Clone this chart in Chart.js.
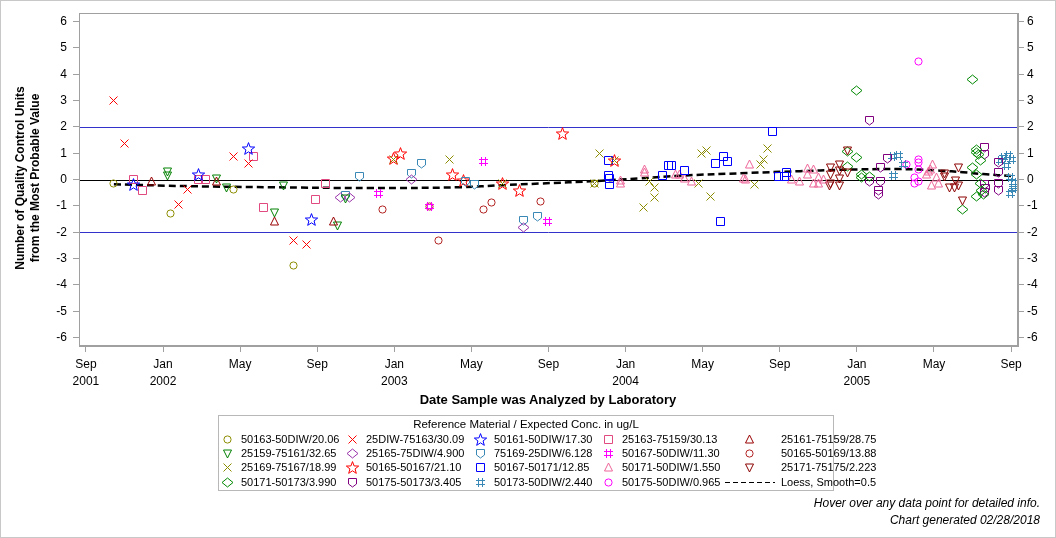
<!DOCTYPE html>
<html>
<head>
<meta charset="utf-8">
<script src="https://cdn.jsdelivr.net/npm/chart.js@4.4.1/dist/chart.umd.min.js"></script>
<style>
  body { margin: 0; background: #fff; font-family: 'Liberation Sans', Arial, sans-serif; color: #000; }
  #page { position: relative; width: 1056px; height: 538px; overflow: hidden; }
  #chart { position: absolute; left: 0; top: 0; }
  #frame { position: absolute; left: 0; top: 0; width: 1056px; height: 538px; box-sizing: border-box; border: 1px solid #c8c8c8; pointer-events: none; }
  #ytitle { position: absolute; left: -121px; top: 162px; width: 300px; height: 32px; transform: rotate(-90deg);
            text-align: center; font-weight: bold; font-size: 12px; line-height: 15px; }
  #xtitle { position: absolute; left: 348px; top: 392px; width: 400px; text-align: center; font-weight: bold; font-size: 13px; }
  #legend { position: absolute; left: 218px; top: 415px; width: 616px; height: 76px; box-sizing: border-box; border: 1px solid #b8b8b8; font-size: 11px; }
  #legend .ttl { position: absolute; left: 0; top: 2px; width: 100%; text-align: center; font-size: 11.5px; }
  #legend .item { position: absolute; white-space: nowrap; line-height: 14px; }
  #legend canvas { position: absolute; }
  #footer { position: absolute; right: 16px; top: 495px; text-align: right; font-style: italic; font-size: 12px; line-height: 17px; }
</style>
</head>
<body>
<div id="page">
  <canvas id="chart" width="1056" height="538"></canvas>
  <div id="ytitle">Number of Quality Control Units<br>from the Most Probable Value</div>
  <div id="xtitle">Date Sample was Analyzed by Laboratory</div>
  <div id="legend"><div class="ttl">Reference Material / Expected Conc. in ug/L</div></div>
  <div id="footer">Hover over any data point for detailed info.<br>Chart generated 02/28/2018</div>
  <div id="frame"></div>
</div>
<script>
// x values are months since Sep 1, 2001; y values are QC units from the most probable value
const xTickMonths = [0, 4, 8, 12, 16, 20, 24, 28, 32, 36, 40, 44, 48];
const xTickLabels = [['Sep', '2001'], ['Jan', '2002'], ['May', ''], ['Sep', ''], ['Jan', '2003'], ['May', ''],
                     ['Sep', ''], ['Jan', '2004'], ['May', ''], ['Sep', ''], ['Jan', '2005'], ['May', ''], ['Sep', '']];
const yTickValues = [-6, -5, -4, -3, -2, -1, 0, 1, 2, 3, 4, 5, 6];
const controlLimits = [-2, 2];

const s50163_50DIW = [[1.45, -0.16], [4.38, -1.30], [7.68, -0.39], [10.76, -3.28], [26.41, -0.16]];
const s25DIW_75163 = [[1.45, 3.0], [2.02, 1.38], [4.79, -0.96], [5.26, -0.39], [7.68, 0.87], [8.42, 0.63], [10.76, -2.33], [11.43, -2.47]];
const s50161_50DIW = [[2.46, -0.20], [5.86, 0.19], [8.42, 1.18], [11.68, -1.52]];
const s25163_75159 = [[2.46, 0.02], [2.92, -0.42], [5.86, 0.02], [6.18, -0.01], [8.68, 0.89], [9.2, -1.07], [11.9, -0.77], [12.44, -0.16]];
const s25161_75159 = [[3.39, -0.09], [6.75, -0.08], [9.77, -1.58], [12.82, -1.60]];
const s25159_75161 = [[4.22, 0.30], [4.22, 0.15], [6.75, 0.05], [7.27, -0.31], [9.77, -1.26], [10.27, -0.23], [13.06, -1.74], [13.48, -0.70]];
const s25165_75DIW = [[13.23, -0.67], [13.7, -0.67], [16.88, 0.01], [22.7, -1.82]];
const s75169_25DIW = [[13.48, -0.59], [14.17, 0.11], [16.88, 0.24], [17.4, 0.62], [19.68, -0.08], [20.15, -0.20], [22.7, -1.55], [23.42, -1.40]];
const s50167_50DIW = [[15.17, -0.54], [17.82, -1.02], [20.64, 0.68], [23.94, -1.60]];
const s50165_50169 = [[15.38, -1.14], [17.82, -1.02], [18.29, -2.30], [20.62, -1.14], [21.03, -0.88], [23.61, -0.83]];
const s25169_75167 = [[15.98, 0.78], [18.85, 0.75], [21.62, -0.13], [26.41, -0.16], [26.67, 1.0], [27.42, 0.74], [28.93, -1.07],
                      [29.22, -0.06], [29.5, -0.31], [29.5, -0.69], [31.76, -0.16], [31.95, 1.0], [32.2, 1.12], [32.38, -0.63],
                      [34.68, -0.20], [34.98, 0.57], [35.15, 0.78], [35.36, 1.20]];
const s50165_50167 = [[15.98, 0.80], [16.3, 0.99], [19.03, 0.18], [19.58, -0.04], [21.62, -0.13], [22.48, -0.42], [24.72, 1.76], [27.42, 0.74]];
const s50167_50171 = [[27.1, 0.72], [27.1, 0.15], [27.15, 0.03], [27.15, -0.19], [29.91, 0.14], [30.22, 0.52], [30.39, 0.52], [31.05, 0.33],
                      [32.66, 0.63], [32.92, -1.60], [33.07, 0.89], [33.28, 0.67], [35.62, 1.84], [35.93, 0.10], [36.27, 0.11], [36.33, 0.26]];
const s50171_50DIW = [[27.73, -0.14], [27.73, -0.05], [28.96, 0.40], [28.96, 0.28], [30.57, 0.19], [30.79, 0.19], [31.05, 0.06], [31.43, -0.06],
                      [34.1, 0.06], [34.2, -0.01], [34.42, 0.57], [36.62, -0.01], [37.01, -0.06], [37.43, 0.44], [37.43, 0.19], [37.74, 0.40],
                      [37.74, -0.14], [38.0, 0.09], [38.0, -0.16], [38.26, -0.01], [43.62, 0.21], [43.7, 0.30], [43.8, 0.40], [43.93, 0.59],
                      [43.88, -0.23], [44.14, 0.09], [44.23, -0.16]];
const s25171_75175 = [[38.64, 0.46], [38.64, 0.21], [38.57, -0.23], [38.64, -0.14], [39.09, 0.59], [39.09, 0.34], [39.09, 0.03], [39.09, -0.23],
                      [39.51, 1.09], [39.51, 0.28], [44.54, 0.24], [44.54, 0.10], [44.8, -0.29], [45.04, -0.29], [45.1, -0.04], [45.27, 0.46],
                      [45.27, -0.23], [45.47, -0.79]];
const s50171_50173 = [[39.51, 1.05], [39.51, 0.50], [39.96, 3.38], [39.96, 0.84], [40.22, 0.19], [40.22, 0.09], [40.68, 0.11], [45.47, -1.14],
                      [45.99, 3.80], [46.22, 1.16], [46.22, 1.03], [46.3, 0.95], [46.43, 0.72], [45.99, 0.46], [46.22, 0.21], [46.39, -0.16],
                      [46.48, -0.42], [46.22, -0.63], [46.57, -0.57]];
const s50175_50173 = [[40.68, 2.23], [40.68, -0.06], [41.12, -0.42], [41.12, -0.57], [41.2, 0.46], [41.2, -0.06], [41.58, 0.82], [46.6, 1.22],
                      [46.6, 0.94], [46.6, -0.20], [46.65, -0.35], [46.6, -0.50], [47.34, 0.65], [47.34, 0.28], [47.34, -0.16], [47.34, -0.42]];
const s50173_50DIW = [[41.86, 0.87], [42.15, 0.90], [41.89, 0.14], [42.41, 0.59], [47.43, 0.72], [47.6, 0.84], [47.86, 0.90], [48.04, 0.78],
                      [47.78, 0.53], [47.95, 0.09], [48.12, -0.10], [48.12, -0.25], [48.12, -0.35], [47.95, -0.54]];
const s50175_50DIW = [[42.55, 0.57], [43.2, 4.49], [43.2, 0.75], [43.2, 0.65], [43.2, 0.38], [42.97, 0.09], [42.97, -0.16], [43.2, -0.08]];
const loessCurve = [[1.45, -0.18], [5.4, -0.25], [9.55, -0.29], [14.74, -0.32], [19.41, -0.29], [21.64, -0.21], [23.56, -0.15],
                    [26.52, -0.05], [28.75, 0.05], [30.83, 0.15], [34.3, 0.25], [37.05, 0.32], [39.13, 0.37], [42.09, 0.40],
                    [44.32, 0.34], [45.51, 0.28], [46.55, 0.21], [48.05, 0.13]];

// legend order is row by row, five columns
const seriesList = [
  { name: '50163-50DIW/20.06', shape: 'circle', color: '#8c8c00', data: s50163_50DIW },
  { name: '25DIW-75163/30.09', shape: 'x', color: '#ff0000', data: s25DIW_75163 },
  { name: '50161-50DIW/17.30', shape: 'star', color: '#0000ff', data: s50161_50DIW },
  { name: '25163-75159/30.13', shape: 'square', color: '#e04a80', data: s25163_75159 },
  { name: '25161-75159/28.75', shape: 'triangle', color: '#990000', data: s25161_75159 },
  { name: '25159-75161/32.65', shape: 'triangleDown', color: '#008000', data: s25159_75161 },
  { name: '25165-75DIW/4.900', shape: 'diamond', color: '#9933aa', data: s25165_75DIW },
  { name: '75169-25DIW/6.128', shape: 'shield', color: '#3a88b5', data: s75169_25DIW },
  { name: '50167-50DIW/11.30', shape: 'hash', color: '#ff00ff', data: s50167_50DIW },
  { name: '50165-50169/13.88', shape: 'circle', color: '#b22222', data: s50165_50169 },
  { name: '25169-75167/18.99', shape: 'x', color: '#8c8c00', data: s25169_75167 },
  { name: '50165-50167/21.10', shape: 'star', color: '#ff0000', data: s50165_50167 },
  { name: '50167-50171/12.85', shape: 'square', color: '#0000ff', data: s50167_50171 },
  { name: '50171-50DIW/1.550', shape: 'triangle', color: '#ee6699', data: s50171_50DIW },
  { name: '25171-75175/2.223', shape: 'triangleDown', color: '#8b0000', data: s25171_75175 },
  { name: '50171-50173/3.990', shape: 'diamond', color: '#008800', data: s50171_50173 },
  { name: '50175-50173/3.405', shape: 'shield', color: '#800080', data: s50175_50173 },
  { name: '50173-50DIW/2.440', shape: 'hash', color: '#3a88b5', data: s50173_50DIW },
  { name: '50175-50DIW/0.965', shape: 'circle', color: '#ff00ff', data: s50175_50DIW }
];

// small outline markers like the SAS symbols
function makeMarker(shape, color) {
  const s = 15, c = 7.5;
  const cv = document.createElement('canvas');
  cv.width = s; cv.height = s;
  const g = cv.getContext('2d');
  g.strokeStyle = color;
  g.lineWidth = 1;
  g.beginPath();
  switch (shape) {
    case 'circle':
      g.arc(c, c, 3.6, 0, Math.PI * 2);
      break;
    case 'x':
      g.moveTo(c - 4, c - 4); g.lineTo(c + 4, c + 4);
      g.moveTo(c + 4, c - 4); g.lineTo(c - 4, c + 4);
      break;
    case 'square':
      g.rect(c - 4, c - 4, 8, 8);
      break;
    case 'triangle':
      g.moveTo(c, c - 4.5); g.lineTo(c + 4, c + 3.5); g.lineTo(c - 4, c + 3.5); g.closePath();
      break;
    case 'triangleDown':
      g.moveTo(c, c + 4.5); g.lineTo(c + 4, c - 3.5); g.lineTo(c - 4, c - 3.5); g.closePath();
      break;
    case 'diamond':
      g.moveTo(c, c - 4.5); g.lineTo(c + 5.5, c); g.lineTo(c, c + 4.5); g.lineTo(c - 5.5, c); g.closePath();
      break;
    case 'shield':
      g.moveTo(c - 4, c - 4); g.lineTo(c + 4, c - 4); g.lineTo(c + 4, c + 1.5); g.lineTo(c, c + 4.5); g.lineTo(c - 4, c + 1.5); g.closePath();
      break;
    case 'hash':
      g.moveTo(c - 2, c - 4.5); g.lineTo(c - 2, c + 4.5);
      g.moveTo(c + 2, c - 4.5); g.lineTo(c + 2, c + 4.5);
      g.moveTo(c - 4.5, c - 2); g.lineTo(c + 4.5, c - 2);
      g.moveTo(c - 4.5, c + 2); g.lineTo(c + 4.5, c + 2);
      break;
    case 'star':
      for (let i = 0; i < 10; i++) {
        const r = i % 2 ? 2.7 : 6.5;
        const a = -Math.PI / 2 + i * Math.PI / 5;
        const px = c + r * Math.cos(a), py = c + 0.6 + r * Math.sin(a);
        if (i === 0) g.moveTo(px, py); else g.lineTo(px, py);
      }
      g.closePath();
      break;
  }
  g.stroke();
  return cv;
}

const toXY = arr => arr.map(p => ({ x: p[0], y: p[1] }));

const datasets = seriesList.map(s => {
  const marker = makeMarker(s.shape, s.color);
  return {
    label: s.name,
    data: toXY(s.data),
    pointStyle: marker,
    pointHoverStyle: marker,
    borderColor: s.color,
    backgroundColor: s.color,
    showLine: false
  };
});
datasets.push({
  label: 'Loess, Smooth=0.5',
  type: 'line',
  data: toXY(loessCurve),
  borderColor: '#000',
  borderWidth: 2.5,
  borderDash: [7, 4],
  pointRadius: 0,
  pointHoverRadius: 0,
  tension: 0.4,
  fill: false
});

// frame of the plot area and the 0 / +-2 reference lines
const refLines = {
  id: 'refLines',
  afterDatasetsUpdate(chart) {
    // snap the image markers to the pixel grid so the thin outlines stay crisp
    chart.data.datasets.forEach((ds, i) => {
      if (ds.type === 'line') return;
      chart.getDatasetMeta(i).data.forEach(el => {
        el.x = Math.floor(el.x) + 0.5;
        el.y = Math.floor(el.y) + 0.5;
      });
    });
  },
  beforeDatasetsDraw(chart) {
    const { ctx, chartArea: a, scales: { y } } = chart;
    ctx.save();
    ctx.lineWidth = 1;
    controlLimits.forEach(v => {
      const py = Math.round(y.getPixelForValue(v)) + 0.5;
      ctx.strokeStyle = '#3333cc';
      ctx.beginPath(); ctx.moveTo(a.left, py); ctx.lineTo(a.right, py); ctx.stroke();
    });
    const p0 = Math.round(y.getPixelForValue(0)) + 0.5;
    ctx.strokeStyle = '#000';
    ctx.beginPath(); ctx.moveTo(a.left, p0); ctx.lineTo(a.right, p0); ctx.stroke();
    ctx.restore();
  },
  afterDraw(chart) {
    const { ctx, chartArea: a } = chart;
    ctx.save();
    ctx.strokeStyle = '#a0a0a0';
    ctx.lineWidth = 1;
    ctx.strokeRect(Math.round(a.left) + 0.5, Math.round(a.top) + 0.5, Math.round(a.right - a.left) - 1, Math.round(a.bottom - a.top) - 1);
    ctx.restore();
  }
};

const tickFont = { family: "'Liberation Sans', Arial, sans-serif", size: 12 };

new Chart(document.getElementById('chart'), {
  type: 'scatter',
  data: { datasets: datasets },
  options: {
    responsive: false,
    animation: false,
    layout: { padding: { top: 10, bottom: 152, left: 0, right: 0 } },
    plugins: {
      legend: { display: false },
      tooltip: { enabled: true }
    },
    scales: {
      x: {
        type: 'linear',
        min: -0.36,
        max: 48.36,
        afterBuildTicks: scale => { scale.ticks = xTickMonths.map(v => ({ value: v })); },
        afterFit: scale => { scale.height = 40; },
        ticks: {
          autoSkip: false,
          maxRotation: 0,
          padding: 5,
          color: '#000',
          font: { ...tickFont, lineHeight: 1.35 },
          callback: (v, i) => xTickLabels[i]
        },
        grid: { display: true, drawOnChartArea: false, drawTicks: true, tickLength: 6, color: '#a0a0a0' },
        border: { display: true, color: '#a0a0a0' }
      },
      y: {
        type: 'linear',
        position: 'left',
        min: -6.32,
        max: 6.32,
        afterBuildTicks: scale => { scale.ticks = yTickValues.map(v => ({ value: v })); },
        afterFit: scale => { scale.width = 79; },
        ticks: { padding: 6, color: '#000', font: tickFont, callback: v => String(v) },
        grid: { display: true, drawOnChartArea: false, drawTicks: true, tickLength: 6, color: '#a0a0a0' },
        border: { display: true, color: '#a0a0a0' }
      },
      y2: {
        type: 'linear',
        position: 'right',
        min: -6.32,
        max: 6.32,
        afterBuildTicks: scale => { scale.ticks = yTickValues.map(v => ({ value: v })); },
        afterFit: scale => { scale.width = 38; },
        ticks: { padding: 3, color: '#000', font: tickFont, callback: v => String(v) },
        grid: { display: true, drawOnChartArea: false, drawTicks: true, tickLength: 6, color: '#a0a0a0' },
        border: { display: true, color: '#a0a0a0' }
      }
    }
  },
  plugins: [refLines]
});

// legend box below the plot (positions relative to the box content)
const legend = document.getElementById('legend');
const colMarkerX = [8, 133, 261, 389, 530];
const colTextX = [22, 147, 275, 403, 562];
const rowY = [23, 37, 51, 66];
seriesList.forEach((s, i) => {
  const col = i % 5, row = Math.floor(i / 5);
  const m = makeMarker(s.shape, s.color);
  m.style.left = (colMarkerX[col] - 7) + 'px';
  m.style.top = (rowY[row] - 7) + 'px';
  legend.appendChild(m);
  const t = document.createElement('div');
  t.className = 'item';
  t.textContent = s.name;
  t.style.left = colTextX[col] + 'px';
  t.style.top = (rowY[row] - 7) + 'px';
  legend.appendChild(t);
});
const dash = document.createElement('canvas');
dash.width = 50; dash.height = 6;
const dg = dash.getContext('2d');
dg.strokeStyle = '#000'; dg.lineWidth = 1; dg.setLineDash([5, 3]);
dg.beginPath(); dg.moveTo(0, 3.5); dg.lineTo(50, 3.5); dg.stroke();
dash.style.left = '506px';
dash.style.top = (rowY[3] - 3) + 'px';
legend.appendChild(dash);
const lt = document.createElement('div');
lt.className = 'item';
lt.textContent = 'Loess, Smooth=0.5';
lt.style.left = colTextX[4] + 'px';
lt.style.top = (rowY[3] - 7) + 'px';
legend.appendChild(lt);
</script>
</body>
</html>
